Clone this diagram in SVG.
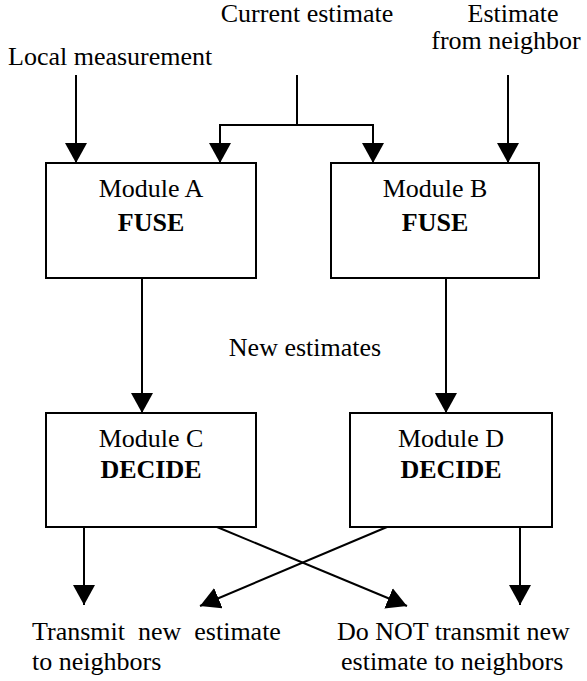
<svg xmlns="http://www.w3.org/2000/svg" width="587" height="681" viewBox="0 0 587 681">
<defs>
<marker id="ah" markerUnits="userSpaceOnUse" markerWidth="20" markerHeight="22" refX="20" refY="11" orient="auto">
<path d="M0,0 L20,11 L0,22 z" fill="#000"/>
</marker>
</defs>
<g id="labels" font-family="Liberation Serif" font-size="26" fill="#000">
<text x="8" y="65">Local measurement</text>
<text x="307" y="22" text-anchor="middle">Current estimate</text>
<text x="513" y="22" text-anchor="middle">Estimate</text>
<text x="506" y="49" text-anchor="middle">from neighbor</text>
<text x="305" y="356" text-anchor="middle">New estimates</text>
<text x="32" y="640" xml:space="preserve">Transmit  new  estimate</text>
<text x="32" y="670">to neighbors</text>
<text x="337" y="640">Do NOT transmit new</text>
<text x="341" y="670">estimate to neighbors</text>
</g>
<g id="connectors" fill="none" stroke="#000" stroke-width="2">
<line x1="76" y1="75" x2="76" y2="163" marker-end="url(#ah)"/>
<path d="M297,75 V125"/>
<path d="M220,125 H373"/>
<line x1="220" y1="124" x2="220" y2="163" marker-end="url(#ah)"/>
<line x1="373" y1="124" x2="373" y2="163" marker-end="url(#ah)"/>
<line x1="508" y1="75" x2="508" y2="163" marker-end="url(#ah)"/>
<line x1="142" y1="278" x2="142" y2="413" marker-end="url(#ah)"/>
<line x1="446" y1="278" x2="446" y2="413" marker-end="url(#ah)"/>
<line x1="84" y1="527" x2="84" y2="605" marker-end="url(#ah)"/>
<line x1="520" y1="527" x2="520" y2="605" marker-end="url(#ah)"/>
<line x1="217" y1="527" x2="407" y2="606" marker-end="url(#ah)"/>
<line x1="387" y1="527" x2="200" y2="606" marker-end="url(#ah)"/>
</g>
<g id="moduleA" font-family="Liberation Serif" font-size="26" text-anchor="middle">
<rect x="46" y="163" width="210" height="115" fill="#fff" stroke="#000" stroke-width="2"/>
<text x="151" y="197">Module A</text>
<text x="151" y="231" font-weight="bold">FUSE</text>
</g>
<g id="moduleB" font-family="Liberation Serif" font-size="26" text-anchor="middle">
<rect x="331" y="163" width="208" height="115" fill="#fff" stroke="#000" stroke-width="2"/>
<text x="435" y="197">Module B</text>
<text x="435" y="231" font-weight="bold">FUSE</text>
</g>
<g id="moduleC" font-family="Liberation Serif" font-size="26" text-anchor="middle">
<rect x="46" y="413" width="210" height="114" fill="#fff" stroke="#000" stroke-width="2"/>
<text x="151" y="447">Module C</text>
<text x="151" y="478" font-weight="bold">DECIDE</text>
</g>
<g id="moduleD" font-family="Liberation Serif" font-size="26" text-anchor="middle">
<rect x="350" y="413" width="202" height="114" fill="#fff" stroke="#000" stroke-width="2"/>
<text x="451" y="447">Module D</text>
<text x="451" y="478" font-weight="bold">DECIDE</text>
</g>
</svg>
